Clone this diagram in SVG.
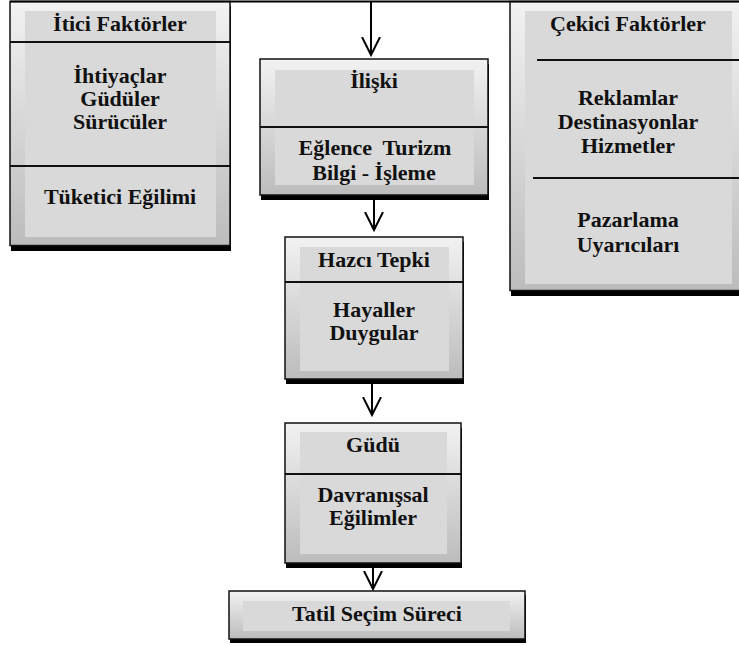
<svg xmlns="http://www.w3.org/2000/svg" width="739" height="646" viewBox="0 0 739 646">
<style>
.outer{fill:url(#g);stroke:#111;stroke-width:1.5}
.shadow{fill:#000}
.inner{fill:#d9d9d9}
.div{stroke:#111;stroke-width:1.8;fill:none}
.t{font-family:"Liberation Serif","Times New Roman",serif;font-weight:bold;font-size:22px;text-anchor:middle;fill:#111;white-space:pre}
.c{stroke:#000;stroke-width:2;fill:none}
</style>
<defs>
<linearGradient id="g" x1="0" y1="0" x2="0" y2="1">
<stop offset="0" stop-color="#f2f2f2"/>
<stop offset="1" stop-color="#bcbcbc"/>
</linearGradient>
<marker id="v" markerUnits="userSpaceOnUse" viewBox="0 0 20 20" markerWidth="20" markerHeight="20" refX="18" refY="10" orient="auto">
<path d="M0,1 L18,10 L0,19" fill="none" stroke="#000" stroke-width="2"/>
</marker>
</defs>
<rect width="739" height="646" fill="#fff"/>

<g id="itici">
<rect class="shadow" x="11" y="6" width="220" height="245"/>
<rect class="outer" x="10" y="1.5" width="220" height="244"/>
<rect class="inner" x="25" y="11" width="191" height="226"/>
<line class="div" x1="10" y1="42" x2="230" y2="42"/>
<line class="div" x1="10" y1="166" x2="230" y2="166"/>
<text class="t" x="120" y="31">İtici Faktörler</text>
<text class="t" x="120" y="83">İhtiyaçlar</text>
<text class="t" x="120" y="106">Güdüler</text>
<text class="t" x="120" y="129">Sürücüler</text>
<text class="t" x="120" y="204">Tüketici Eğilimi</text>
</g>

<g id="cekici">
<rect class="shadow" x="511" y="6" width="240" height="290"/>
<rect class="outer" x="510" y="1.5" width="240" height="289"/>
<rect class="inner" x="525" y="11" width="207" height="273"/>
<line class="div" x1="537" y1="60" x2="739" y2="60"/>
<line class="div" x1="533" y1="178" x2="739" y2="178"/>
<text class="t" x="628" y="31">Çekici Faktörler</text>
<text class="t" x="628" y="105">Reklamlar</text>
<text class="t" x="628" y="129">Destinasyonlar</text>
<text class="t" x="628" y="153">Hizmetler</text>
<text class="t" x="628" y="227">Pazarlama</text>
<text class="t" x="628" y="252">Uyarıcıları</text>
</g>

<g id="iliski">
<rect class="shadow" x="261" y="64" width="228" height="136"/>
<rect class="outer" x="260" y="59" width="228" height="136"/>
<rect class="inner" x="275" y="70" width="199" height="115"/>
<line class="div" x1="260" y1="127" x2="488" y2="127"/>
<text class="t" x="374" y="88">İlişki</text>
<text class="t" x="375" y="155">Eğlence  Turizm</text>
<text class="t" x="374" y="180">Bilgi - İşleme</text>
</g>

<g id="hazci">
<rect class="shadow" x="286" y="242" width="178" height="142"/>
<rect class="outer" x="285" y="237" width="178" height="142"/>
<rect class="inner" x="300" y="247" width="149" height="124"/>
<line class="div" x1="285" y1="282" x2="463" y2="282"/>
<text class="t" x="374" y="267">Hazcı Tepki</text>
<text class="t" x="374" y="317">Hayaller</text>
<text class="t" x="374" y="340">Duygular</text>
</g>

<g id="gudu">
<rect class="shadow" x="286" y="428" width="176" height="140"/>
<rect class="outer" x="285" y="423" width="176" height="140"/>
<rect class="inner" x="300" y="432" width="147" height="122"/>
<line class="div" x1="285" y1="474" x2="461" y2="474"/>
<text class="t" x="373" y="452">Güdü</text>
<text class="t" x="373" y="502">Davranışsal</text>
<text class="t" x="373" y="525">Eğilimler</text>
</g>

<g id="tatil">
<rect class="shadow" x="230" y="595" width="296" height="48"/>
<rect class="outer" x="229" y="591" width="296" height="48"/>
<rect class="inner" x="243" y="601" width="267" height="30"/>
<text class="t" x="377" y="621">Tatil Seçim Süreci</text>
</g>

<g id="connectors">
<line class="c" x1="10" y1="1.5" x2="739" y2="1.5"/>
<line class="c" x1="371" y1="1.5" x2="371" y2="55" marker-end="url(#v)"/>
<line class="c" x1="374" y1="196" x2="374" y2="230" marker-end="url(#v)"/>
<line class="c" x1="372" y1="384" x2="372" y2="415" marker-end="url(#v)"/>
<line class="c" x1="373" y1="567" x2="373" y2="589" marker-end="url(#v)"/>
</g>
</svg>
